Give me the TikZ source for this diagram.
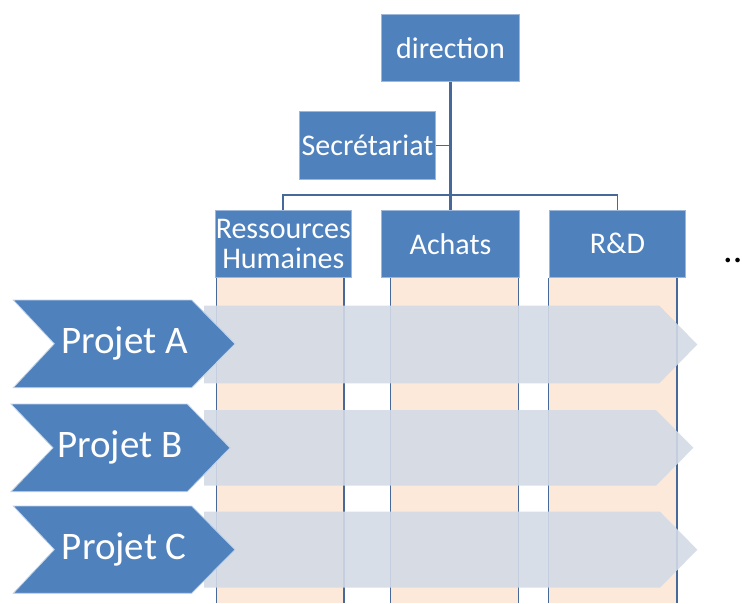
\documentclass[tikz,border=0pt]{standalone}
\usepackage{fontspec}
\setmainfont{Carlito}
\definecolor{boxblue}{HTML}{4F81BD}
\definecolor{boxedge}{HTML}{9CB7DA}
\definecolor{linecol}{HTML}{46699A}
\definecolor{peach}{HTML}{FDE9D9}
\definecolor{bandcol}{HTML}{D3DAE6}
\tikzset{
  orgbox/.style={rectangle, fill=boxblue, draw=boxedge, line width=0.8pt, inner sep=0pt,
     text=white, align=center, font=\fontsize{30}{30}\selectfont},
  conn/.style={draw=linecol, line width=1.8pt},
  colline/.style={draw=linecol, line width=1.8pt},
  colfill/.style={fill=peach},
  band/.style={fill=bandcol, fill opacity=0.9},
  chev/.style={fill=boxblue, draw=white!65!boxblue, line width=0.8pt},
  chevtext/.style={text=white, font=\fontsize{39}{42}\selectfont, inner sep=0pt}
}
\begin{document}
\begin{tikzpicture}[x=1pt,y=-1pt]
\useasboundingbox (0,0) rectangle (742,603);
% columns
\fill[colfill] (216.5,278) rectangle (344.3,603);
\fill[colfill] (390.4,278) rectangle (518.5,603);
\fill[colfill] (548.5,278) rectangle (676.6,603);
\foreach \xx in {216.5,344.3,390.4,518.5,548.5,676.6}
  \draw[colline] (\xx,278) -- (\xx,603);
% bands
\path[band] (204,305.7) -- (659.3,305.7) -- (697.3,344.5) -- (659.3,383.3) -- (204,383.3) -- cycle;
\path[band] (204,410) -- (656,410) -- (693.3,447.8) -- (656,485.7) -- (204,485.7) -- cycle;
\path[band] (204,511.7) -- (660,511.7) -- (697.3,549.7) -- (660,587.7) -- (204,587.7) -- cycle;
% chevrons
\path[chev] (13.3,300) -- (191.7,300) -- (235,343.8) -- (191.7,387.7) -- (13.3,387.7) -- (54.3,343.8) -- cycle;
\path[chev] (11,404) -- (187.3,404) -- (230,447.8) -- (187.3,491.7) -- (11,491.7) -- (53,447.8) -- cycle;
\path[chev] (13.3,506) -- (191.7,506) -- (235,549.6) -- (191.7,593.3) -- (13.3,593.3) -- (54.3,549.6) -- cycle;
\node[chevtext] (pa) at (124.5,343) {Projet A};
\node[chevtext] (pb) at (119.7,447) {Projet B};
\node[chevtext] (pc) at (124.3,549) {Projet C};
% org boxes
\node[orgbox, minimum width=137.6pt, minimum height=67.7pt] (dir) at (450.5,47.8) {direction};
\node[orgbox, minimum width=136.4pt, minimum height=67.3pt] (sec) at (367.5,145.4) {Secrétariat};
\node[orgbox, minimum width=135.3pt, minimum height=67.7pt] (rh) at (283.3,243.8) {Ressources\\Humaines};
\node[orgbox, minimum width=137.6pt, minimum height=67.7pt] (ach) at (450.5,243.8) {Achats};
\node[orgbox, minimum width=136pt, minimum height=67.7pt] (rd) at (617.5,243.8) {R\&D};
% connectors
\draw[conn, line width=2.4pt] (dir.south) -- (ach.north);
\draw[conn] (sec.east) -- (sec.east -| dir.south);
\draw[conn] (rh.north) -- ++(0,-14.3) -| (rd.north);
% dots
\node[anchor=base west, inner sep=0pt, font=\fontsize{38}{40}\selectfont] (more) at (723,262) {..};
\end{tikzpicture}
\end{document}
